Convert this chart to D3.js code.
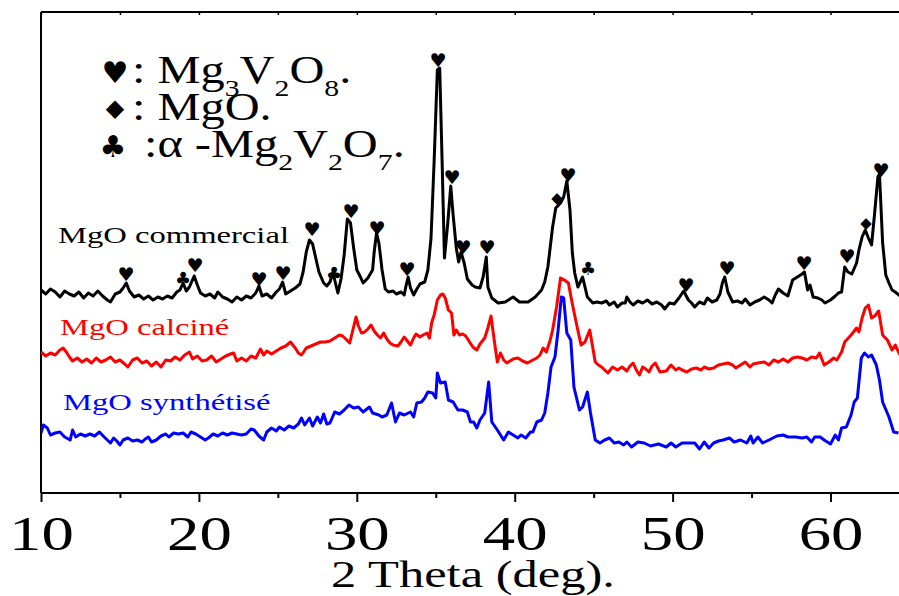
<!DOCTYPE html>
<html>
<head>
<meta charset="utf-8">
<script src="https://cdn.jsdelivr.net/npm/d3@7"></script>
<style>
  html, body { margin: 0; padding: 0; background: #fff; }
  svg { display: block; }
</style>
</head>
<body>
<svg id="chart" width="899" height="596"></svg>
<script>
// XRD patterns (2θ in degrees, intensity in arbitrary units, curves offset for stacking)
const commercial = [
  [10.0,203],[10.3,199],[10.6,204],[10.9,201],[11.2,196],[11.5,202],[11.8,199],[12.1,197],[12.4,201],[12.7,195],
  [13.0,200],[13.3,197],[13.6,202],[13.9,197],[14.2,193],[14.4,191],[14.7,199],[15.0,201],[15.2,205],[15.4,210],
  [15.6,202],[15.9,196],[16.2,198],[16.5,194],[16.8,197],[17.1,193],[17.4,196],[17.7,194],[18.0,197],[18.3,195],
  [18.6,201],[18.8,203],[19.0,210],[19.2,202],[19.4,206],[19.7,217],[19.9,208],[20.1,200],[20.4,197],[20.7,199],
  [21.0,195],[21.2,201],[21.5,196],[21.8,194],[22.1,191],[22.4,196],[22.7,193],[23.0,197],[23.3,195],[23.6,200],
  [23.8,207],[24.0,197],[24.3,199],[24.6,195],[24.9,201],[25.1,204],[25.3,211],[25.5,199],[25.8,202],[26.1,205],
  [26.4,209],[26.6,221],[26.8,241],[27.0,253],[27.2,249],[27.4,235],[27.6,221],[27.9,210],[28.1,207],[28.3,211],
  [28.5,221],[28.6,213],[28.8,200],[29.0,214],[29.2,238],[29.4,274],[29.6,270],[29.8,245],[30.0,223],[30.2,217],
  [30.4,210],[30.7,215],[31.0,223],[31.1,241],[31.25,260],[31.4,250],[31.6,223],[31.8,204],[32.0,201],[32.3,202],
  [32.5,199],[32.8,201],[33.0,198],[33.1,206],[33.25,216],[33.4,205],[33.6,198],[33.8,204],[34.0,209],[34.3,211],
  [34.5,223],[34.7,255],[34.9,333],[35.1,423],[35.25,425],[35.4,333],[35.55,235],[35.75,268],[35.95,307],[36.1,278],
  [36.3,245],[36.45,231],[36.6,241],[36.8,230],[37.0,214],[37.3,208],[37.5,206],[37.8,205],[38.0,216],[38.2,236],
  [38.3,206],[38.55,195],[38.95,190],[39.4,191],[39.9,196],[40.3,191],[40.85,191],[41.3,196],[41.7,203],[41.9,211],
  [42.1,226],[42.4,266],[42.6,285],[42.9,290],[43.1,296],[43.3,312],[43.5,283],[43.65,240],[43.8,220],[44.0,206],
  [44.3,216],[44.6,196],[44.95,190],[45.2,191],[45.5,190],[45.8,192],[46.0,188],[46.3,191],[46.5,186],[46.8,190],
  [47.0,190],[47.1,196],[47.3,191],[47.5,188],[47.8,192],[48.1,190],[48.4,193],[48.7,189],[49.0,191],[49.3,188],
  [49.5,184],[49.8,190],[50.1,189],[50.4,195],[50.7,202],[51.0,193],[51.2,190],[51.4,186],[51.7,191],[52.0,189],
  [52.2,195],[52.5,191],[52.8,193],[53.0,199],[53.15,210],[53.3,216],[53.5,201],[53.8,191],[54.1,192],[54.4,190],
  [54.6,194],[54.9,188],[55.2,191],[55.5,193],[55.8,196],[56.1,193],[56.3,190],[56.5,198],[56.7,204],[57.0,200],
  [57.3,197],[57.6,213],[57.9,216],[58.2,219],[58.35,221],[58.55,203],[58.7,208],[58.9,196],[59.2,195],[59.45,193],
  [59.65,190],[60.0,193],[60.3,197],[60.5,200],[60.7,201],[60.9,226],[61.1,221],[61.35,219],[61.65,230],[61.8,243],
  [62.0,256],[62.2,263],[62.4,255],[62.6,248],[62.8,281],[63.0,316],[63.1,319],[63.3,250],[63.5,218],[63.7,210],
  [63.9,203],[64.1,201],[64.4,197]
];

const calcine = [
  [10.0,141],[10.3,137],[10.6,140],[10.9,138],[11.2,143],[11.4,145],[11.6,141],[11.8,136],[12.0,132],[12.3,135],
  [12.6,131],[12.9,134],[13.2,130],[13.5,135],[13.8,131],[14.1,133],[14.4,136],[14.7,131],[15.0,133],[15.3,129],
  [15.5,126],[15.8,133],[16.1,135],[16.4,130],[16.7,132],[17.0,127],[17.3,131],[17.6,126],[17.9,133],[18.2,132],
  [18.5,136],[18.8,133],[19.1,138],[19.4,141],[19.6,134],[19.9,137],[20.2,132],[20.5,133],[20.8,137],[21.1,131],
  [21.4,134],[21.7,137],[22.0,139],[22.2,140],[22.4,132],[22.7,135],[23.0,132],[23.3,137],[23.6,135],[23.9,144],
  [24.1,138],[24.3,142],[24.6,139],[24.9,142],[25.2,145],[25.5,147],[25.8,151],[26.1,145],[26.3,140],[26.5,138],
  [26.8,145],[27.1,147],[27.4,149],[27.7,151],[28.0,151],[28.3,152],[28.6,155],[28.9,158],[29.1,157],[29.3,154],
  [29.55,150],[29.75,163],[29.95,176],[30.1,167],[30.3,160],[30.5,161],[30.7,164],[30.9,168],[31.1,162],[31.3,158],
  [31.5,155],[31.7,160],[31.9,154],[32.1,150],[32.3,148],[32.6,147],[32.8,151],[33.0,156],[33.2,152],[33.4,148],
  [33.6,155],[33.75,159],[34.0,156],[34.2,158],[34.45,160],[34.6,155],[34.75,171],[34.9,178],[35.1,193],[35.3,198],
  [35.45,199],[35.6,195],[35.8,183],[36.0,180],[36.15,158],[36.3,163],[36.5,158],[36.7,159],[36.9,157],[37.1,152],
  [37.35,146],[37.6,143],[37.8,149],[38.1,155],[38.3,165],[38.5,177],[38.7,153],[38.9,131],[39.1,140],[39.3,133],
  [39.5,130],[39.7,132],[39.9,134],[40.2,135],[40.5,132],[40.8,130],[41.15,133],[41.4,135],[41.6,138],[41.8,145],
  [42.0,141],[42.25,153],[42.4,163],[42.65,186],[42.9,215],[43.15,213],[43.4,210],[43.6,193],[43.9,170],[44.2,148],
  [44.45,151],[44.75,163],[45.1,131],[45.3,128],[45.5,126],[45.7,123],[45.9,120],[46.2,126],[46.5,123],[46.8,126],
  [47.1,122],[47.3,127],[47.5,130],[47.7,123],[47.9,118],[48.1,126],[48.3,124],[48.5,121],[48.7,127],[48.9,130],
  [49.2,121],[49.6,122],[49.9,128],[50.2,123],[50.4,125],[50.6,123],[50.9,121],[51.2,124],[51.5,125],[51.8,123],
  [52.0,126],[52.3,124],[52.6,125],[52.9,128],[53.2,129],[53.5,130],[53.8,128],[54.0,125],[54.3,128],[54.6,131],
  [54.9,126],[55.1,129],[55.4,130],[55.8,131],[56.1,128],[56.4,133],[56.7,131],[57.0,134],[57.3,131],[57.6,135],
  [57.9,136],[58.2,135],[58.5,133],[58.8,136],[59.1,135],[59.3,140],[59.6,128],[59.9,131],[60.2,135],[60.4,133],
  [60.7,141],[60.9,151],[61.3,158],[61.65,165],[61.8,161],[62.0,175],[62.2,185],[62.4,188],[62.6,175],[62.8,177],
  [63.05,182],[63.3,158],[63.6,153],[63.9,143],[64.1,148],[64.4,138]
];

const synthetise = [
  [10.0,60],[10.15,68],[10.4,65],[10.6,58],[10.9,60],[11.2,61],[11.5,56],[11.85,53],[12.0,63],[12.2,56],
  [12.5,59],[12.8,57],[13.1,59],[13.4,57],[13.7,61],[14.0,56],[14.4,50],[14.6,55],[14.8,52],[15.0,48],
  [15.2,53],[15.5,55],[15.8,52],[16.1,53],[16.4,51],[16.6,54],[16.8,56],[17.0,51],[17.3,53],[17.6,57],
  [17.9,59],[18.1,56],[18.4,60],[18.7,59],[19.0,60],[19.3,56],[19.5,61],[19.8,59],[20.1,56],[20.4,53],
  [20.6,55],[20.9,59],[21.2,57],[21.5,60],[21.8,58],[22.1,60],[22.4,59],[22.7,58],[23.0,59],[23.3,64],
  [23.5,63],[23.8,57],[24.1,53],[24.3,61],[24.6,65],[24.9,62],[25.1,66],[25.4,63],[25.7,67],[26.0,65],
  [26.3,69],[26.5,75],[26.7,68],[27.0,75],[27.2,67],[27.5,76],[27.7,70],[27.9,79],[28.1,69],[28.3,70],
  [28.6,81],[28.9,79],[29.2,83],[29.5,88],[29.8,85],[30.1,86],[30.4,81],[30.8,86],[31.0,80],[31.4,78],
  [31.6,76],[31.9,78],[32.2,90],[32.45,71],[32.7,80],[33.0,78],[33.4,81],[33.6,76],[33.8,90],[34.1,91],
  [34.3,95],[34.5,101],[34.8,100],[35.0,95],[35.1,120],[35.3,110],[35.6,111],[35.8,93],[36.1,91],[36.4,83],
  [36.7,83],[37.0,81],[37.2,71],[37.4,71],[37.6,65],[37.8,73],[38.1,80],[38.35,111],[38.55,71],[38.9,63],
  [39.3,53],[39.6,61],[39.9,58],[40.2,55],[40.4,58],[40.7,55],[41.0,61],[41.15,61],[41.4,71],[41.7,73],
  [41.9,80],[42.1,100],[42.3,126],[42.55,136],[42.75,163],[42.95,196],[43.1,195],[43.3,160],[43.55,153],[43.75,106],
  [44.1,83],[44.3,86],[44.6,101],[44.8,80],[45.1,53],[45.4,50],[45.7,53],[46.0,55],[46.3,50],[46.6,51],
  [46.9,48],[47.1,51],[47.4,46],[47.8,51],[48.2,50],[48.6,47],[49.1,49],[49.6,46],[49.9,50],[50.2,46],
  [50.6,50],[51.0,50],[51.4,50],[51.7,44],[52.0,51],[52.3,45],[52.6,50],[52.9,52],[53.2,53],[53.6,55],
  [53.9,51],[54.3,53],[54.7,50],[54.95,57],[55.1,50],[55.4,56],[55.7,50],[56.1,53],[56.6,57],[57.0,58],
  [57.3,56],[57.8,56],[58.2,55],[58.5,56],[58.8,51],[59.0,56],[59.35,56],[59.6,53],[60.0,49],[60.3,58],
  [60.5,53],[60.7,65],[61.0,66],[61.3,78],[61.5,91],[61.7,95],[61.95,135],[62.15,140],[62.4,136],[62.6,138],
  [62.9,128],[63.1,113],[63.3,91],[63.7,76],[64.0,61],[64.3,60]
];

// Phase markers: [2θ, height of the symbol centre]
const heartMarks = [
  [15.38,219],[19.75,228],[23.8,214],[25.33,220],[27.16,264],[29.63,282],[31.28,265],[33.18,224],[35.14,433],
  [36.03,316],[36.73,246],[38.25,246],[43.38,318],[50.85,208],[53.45,225],[58.32,230],[61.05,237],[63.2,323]
];
const diamondMarks = [[42.68,295],[62.25,270]];
const clubMarks = [[18.99,215],[28.56,220],[44.64,225]];

const majorTicks = [10, 20, 30, 40, 50, 60];
const allTicks = [10, 15, 20, 25, 30, 35, 40, 45, 50, 55, 60];

const W = 899, H = 596;
const plotLeft = 41, plotTop = 12, plotBottom = 493;
const serif = "Liberation Serif";
const symbolFont = "DejaVu Sans";

const svg = d3.select("#chart");
const x = d3.scaleLinear().domain([10, 64.4]).range([plotLeft, 900]);
const y = d3.scaleLinear().domain([0, 481]).range([plotBottom, plotTop]);

// frame: left spine and top spine
svg.append("line").attr("x1", plotLeft).attr("x2", plotLeft).attr("y1", plotTop).attr("y2", plotBottom)
  .attr("stroke", "#000").attr("stroke-width", 2);
svg.append("line").attr("x1", plotLeft).attr("x2", W).attr("y1", plotTop).attr("y2", plotTop)
  .attr("stroke", "#000").attr("stroke-width", 2);

// top inner ticks
const topAxis = svg.append("g").attr("transform", `translate(0,${plotTop})`)
  .call(d3.axisBottom(x).tickValues(allTicks).tickSize(3).tickFormat(""));
topAxis.select(".domain").remove();
topAxis.selectAll(".tick line").attr("stroke-width", 1.5);

// bottom axis
const xAxis = svg.append("g").attr("transform", `translate(0,${plotBottom})`)
  .call(d3.axisBottom(x).tickValues(allTicks).tickSize(4).tickSizeOuter(0)
    .tickFormat(d => majorTicks.includes(d) ? d : ""));
xAxis.select(".domain").attr("d", `M${plotLeft},0H${W}`).attr("stroke-width", 2);
xAxis.selectAll(".tick line").attr("stroke-width", 2)
  .attr("y2", d => majorTicks.includes(d) ? 9 : 5);
xAxis.selectAll(".tick text")
  .attr("y", 57).attr("dy", 0)
  .attr("font-family", serif).attr("font-size", 48).attr("fill", "#000")
  .attr("transform", "scale(1.35,1)");

// axis title
svg.append("text")
  .attr("transform", `translate(473,587) scale(1.33,1)`)
  .attr("text-anchor", "middle")
  .attr("font-family", serif).attr("font-size", 38)
  .text("2 Theta (deg).");

// curves
const line = d3.line().x(d => x(d[0])).y(d => y(d[1]));
const series = [
  { data: synthetise, color: "#0000ff" },
  { data: calcine, color: "#ff0000" },
  { data: commercial, color: "#000000" }
];
svg.append("defs").append("clipPath").attr("id", "plotclip")
  .append("rect").attr("x", plotLeft).attr("y", 0).attr("width", W - plotLeft).attr("height", plotBottom);
svg.append("g").attr("clip-path", "url(#plotclip)")
  .selectAll("path").data(series).join("path")
  .attr("d", d => line(d.data))
  .attr("fill", "none").attr("stroke", d => d.color)
  .attr("stroke-width", 3).attr("stroke-linejoin", "round");

// curve labels
const curveLabels = [
  { text: "MgO commercial", color: "#000", px: 58, py: 243 },
  { text: "MgO calciné", color: "#ff0000", px: 60, py: 335 },
  { text: "MgO synthétisé", color: "#0000ff", px: 63, py: 410 }
];
svg.selectAll(".clabel").data(curveLabels).join("text")
  .attr("class", "clabel")
  .attr("transform", d => `translate(${d.px},${d.py}) scale(1.36,1)`)
  .attr("font-family", serif).attr("font-size", 24).attr("fill", d => d.color)
  .text(d => d.text);

// phase markers above the peaks
function marks(list, glyph, size) {
  svg.append("g").selectAll("text").data(list).join("text")
    .attr("x", d => x(d[0])).attr("y", d => y(d[1]))
    .attr("text-anchor", "middle").attr("dominant-baseline", "central")
    .attr("font-family", symbolFont).attr("font-size", size)
    .text(glyph);
}
marks(heartMarks, "\u2665", 19);
marks(diamondMarks, "\u25C6", 15);
marks(clubMarks, "\u2663", 18);

// legend
const legend = svg.append("g");
const legendGlyphs = [
  { g: "\u2665", cx: 115, cy: 72, size: 30 },
  { g: "\u25C6", cx: 115, cy: 108, size: 24 },
  { g: "\u2663", cx: 113, cy: 146, size: 30 }
];
legend.selectAll(".lg").data(legendGlyphs).join("text")
  .attr("class", "lg")
  .attr("x", d => d.cx).attr("y", d => d.cy)
  .attr("text-anchor", "middle").attr("dominant-baseline", "central")
  .attr("font-family", symbolFont).attr("font-size", d => d.size)
  .text(d => d.g);

// chemical formula with subscripts: parts alternate between normal text and subscripts
function formula(px, py, parts) {
  const t = legend.append("text")
    .attr("transform", `translate(${px},${py}) scale(1.24,1)`)
    .attr("font-family", serif).attr("font-size", 39);
  let shift = 0;
  parts.forEach(p => {
    const span = t.append("tspan");
    if (p.sub) {
      span.attr("dy", 13 - shift).attr("font-size", 24).text(p.sub);
      shift = 13;
    } else {
      span.attr("dy", -shift).text(p.t);
      shift = 0;
    }
  });
}
formula(132, 83, [{ t: ": Mg" }, { sub: "3" }, { t: "V" }, { sub: "2" }, { t: "O" }, { sub: "8" }, { t: "." }]);
formula(132, 120, [{ t: ": MgO." }]);
formula(144, 157, [{ t: ":\u03B1 -Mg" }, { sub: "2" }, { t: "V" }, { sub: "2" }, { t: "O" }, { sub: "7" }, { t: "." }]);
</script>
</body>
</html>
